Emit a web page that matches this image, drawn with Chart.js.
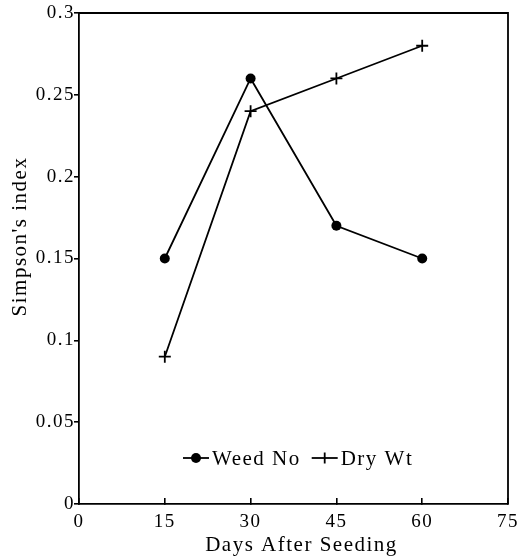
<!DOCTYPE html>
<html><head><meta charset="utf-8">
<script src="https://cdn.jsdelivr.net/npm/chart.js@4.4.1/dist/chart.umd.min.js"></script>
<style>html,body{margin:0;padding:0;background:#fff;}canvas{display:block;}</style>
</head><body>
<canvas id="c" width="532" height="558"></canvas>
<script>
const days = [15, 30, 45, 60];
const weedNo = [0.15, 0.26, 0.17, 0.15];
const dryWt = [0.09, 0.24, 0.26, 0.28];
const seriesLabels = ['Weed No', 'Dry Wt'];
const xTicks = [0, 15, 30, 45, 60, 75];
const yTicks = [0, 0.05, 0.1, 0.15, 0.2, 0.25, 0.3];
const xTitle = 'Days After Seeding';
const yTitle = "Simpson's index";

const SERIF = '"Liberation Serif", "Times New Roman", serif';
const SPACING = '1.5px';

const toPts = (ys) => days.map((d, i) => ({ x: d, y: ys[i] }));

const framePlugin = {
  id: 'frame',
  beforeUpdate(chart) { chart.ctx.letterSpacing = SPACING; },
  beforeDraw(chart) { chart.ctx.letterSpacing = SPACING; },
  afterDraw(chart) {
    const { ctx, chartArea: a } = chart;
    ctx.save();
    ctx.letterSpacing = SPACING;
    // top and right frame
    ctx.strokeStyle = '#000';
    ctx.lineWidth = 1.8;
    ctx.beginPath();
    ctx.moveTo(a.left, a.top);
    ctx.lineTo(a.right, a.top);
    ctx.lineTo(a.right, a.bottom);
    ctx.stroke();

    ctx.fillStyle = '#000';
    ctx.font = '21px ' + SERIF;

    // x-axis title
    ctx.textAlign = 'center';
    ctx.textBaseline = 'middle';
    ctx.fillText(xTitle, (a.left + a.right) / 2 + 8, chart.height - 13);

    // y-axis title
    ctx.save();
    ctx.translate(20, (a.top + a.bottom) / 2 - 22);
    ctx.rotate(-Math.PI / 2);
    ctx.fillText(yTitle, 0, 0);
    ctx.restore();

    // legend inside the plot
    const y = a.bottom - 46;
    let x = a.left + 104;
    ctx.textAlign = 'left';
    ctx.textBaseline = 'middle';
    chart.data.datasets.forEach((ds) => {
      ctx.strokeStyle = '#000';
      ctx.lineWidth = 1.8;
      ctx.beginPath();
      ctx.moveTo(x, y);
      ctx.lineTo(x + 26, y);
      ctx.stroke();
      const cx = x + 13;
      if (ds.pointStyle === 'cross') {
        ctx.beginPath();
        ctx.moveTo(cx, y - 5.5);
        ctx.lineTo(cx, y + 5.5);
        ctx.stroke();
      } else {
        ctx.fillStyle = '#000';
        ctx.beginPath();
        ctx.arc(cx, y, 5, 0, Math.PI * 2);
        ctx.fill();
      }
      ctx.fillStyle = '#000';
      ctx.fillText(ds.label, x + 29, y + 1);
      x += 29 + ctx.measureText(ds.label).width + 11;
    });
    ctx.restore();
  }
};

const fmt = (v) => String(+(+v).toFixed(2));

new Chart(document.getElementById('c'), {
  type: 'line',
  data: {
    datasets: [
      {
        label: seriesLabels[0],
        data: toPts(weedNo),
        borderColor: '#000',
        borderWidth: 1.8,
        backgroundColor: '#000',
        pointStyle: 'circle',
        pointRadius: 5,
        pointBackgroundColor: '#000',
        pointBorderColor: '#000',
        pointBorderWidth: 0,
        fill: false,
        tension: 0
      },
      {
        label: seriesLabels[1],
        data: toPts(dryWt),
        borderColor: '#000',
        borderWidth: 1.8,
        backgroundColor: '#000',
        pointStyle: 'cross',
        pointRadius: 6,
        pointBorderColor: '#000',
        pointBorderWidth: 1.8,
        fill: false,
        tension: 0
      }
    ]
  },
  options: {
    responsive: false,
    devicePixelRatio: 1,
    animation: false,
    events: [],
    layout: { padding: { top: 13, right: 12, left: 0, bottom: 0 } },
    plugins: { legend: { display: false }, tooltip: { enabled: false } },
    scales: {
      x: {
        type: 'linear',
        min: 0,
        max: 75,
        afterBuildTicks: (s) => { s.ticks = xTicks.map((v) => ({ value: v })); },
        afterFit: (s) => { s.height = 54; },
        border: { color: '#000', width: 1.8 },
        grid: { drawOnChartArea: false, drawTicks: true, tickLength: -6, color: '#000', lineWidth: 1.6 },
        ticks: {
          color: '#000',
          font: { family: SERIF, size: 19 },
          padding: 13,
          maxRotation: 0,
          autoSkip: false,
          callback: fmt
        },
        title: { display: false }
      },
      y: {
        type: 'linear',
        min: 0,
        max: 0.3,
        afterBuildTicks: (s) => { s.ticks = yTicks.map((v) => ({ value: v })); },
        afterFit: (s) => { s.width = 79; },
        border: { color: '#000', width: 1.8 },
        grid: { drawOnChartArea: false, drawTicks: true, tickLength: 5, color: '#000', lineWidth: 1.6 },
        ticks: {
          color: '#000',
          font: { family: SERIF, size: 19 },
          padding: -1,
          autoSkip: false,
          callback: fmt
        },
        title: { display: false }
      }
    }
  },
  plugins: [framePlugin]
});
</script>
</body></html>
